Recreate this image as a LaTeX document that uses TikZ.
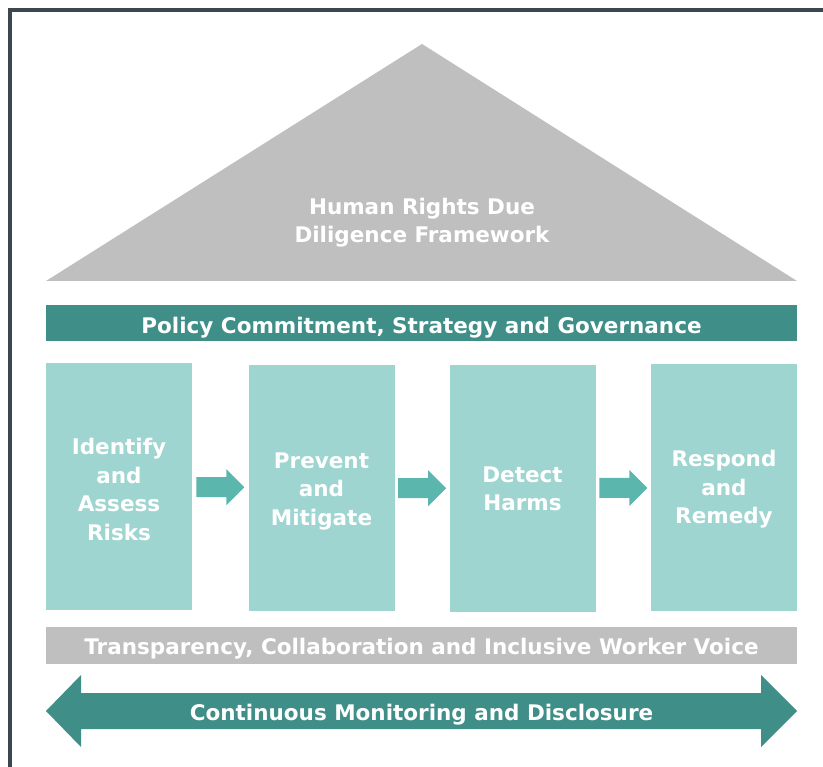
\documentclass[tikz,border=0pt]{standalone}
\usepackage{fontspec}
\setmainfont{DejaVu Sans}
\begin{document}
\begin{tikzpicture}[x=1pt,y=-1pt,
  lbl/.style={text=white,font=\bfseries\fontsize{21.5}{28.5}\selectfont,align=center,inner sep=0pt},
  barlbl/.style={lbl,anchor=base},
  bar/.style={minimum width=751pt,inner sep=0pt},
  stage/.style={fill=boxc,minimum width=146pt,minimum height=246pt,inner sep=0pt},
  smallarrow/.style={fill=arrc}]
\definecolor{frame}{HTML}{3B4852}
\definecolor{roof}{HTML}{BFBFBF}
\definecolor{teal}{HTML}{3F8F88}
\definecolor{boxc}{HTML}{9FD5D1}
\definecolor{arrc}{HTML}{5BB6AE}
\useasboundingbox (0,0) rectangle (823,767);
\fill[white] (0,0) rectangle (823,767);
\draw[frame,line width=4pt] (10,840) -- (10,10) -- (840,10);
% roof
\coordinate (apex) at (422,44);
\coordinate (bl) at (46,281);
\coordinate (br) at (797,281);
\fill[roof] (bl) -- (apex) -- (br) -- cycle;
\node[lbl] (title) at (422,222.8) {Human Rights Due\\Diligence Framework};
% policy bar
\node[bar,fill=teal,minimum height=36pt] (policy) at (421.5,323) {};
\node[barlbl] (policytxt) at (421.5,334) {Policy Commitment, Strategy and Governance};
% stages
\node[stage] (s1) at (119,486.5) {};
\node[stage] (s2) at (321.5,488) {};
\node[stage] (s3) at (522.5,488.5) {};
\node[stage] (s4) at (724,487.5) {};
\node[lbl] (t1) at (119,489.6) {Identify\\and\\Assess\\Risks};
\node[lbl] (t2) at (321.5,491.2) {Prevent\\and\\Mitigate};
\node[lbl] (t3) at (522.5,488.8) {Detect\\Harms};
\node[lbl] (t4) at (724,489.6) {Respond\\and\\Remedy};
% small arrows
\foreach \a/\b in {s1/s2,s2/s3,s3/s4}{
  \path (\a.east) -- (\b.west) coordinate[pos=0.5] (m-\a);
  \fill[smallarrow] ([xshift=-24pt,yshift=-10pt]m-\a) -- ([xshift=6pt,yshift=-10pt]m-\a)
    -- ([xshift=6pt,yshift=-18pt]m-\a) -- ([xshift=24pt]m-\a)
    -- ([xshift=6pt,yshift=18pt]m-\a) -- ([xshift=6pt,yshift=10pt]m-\a)
    -- ([xshift=-24pt,yshift=10pt]m-\a) -- cycle;
}
% gray bar
\node[bar,fill=roof,minimum height=37pt] (voice) at (421.5,645.5) {};
\node[barlbl] (voicetxt) at (421.5,654.3) {Transparency, Collaboration and Inclusive Worker Voice};
% double arrow
\coordinate (lt) at (46,711);
\coordinate (rt) at (797,711);
\fill[teal] (lt) -- (81,675) -- (81,693) -- (761,693) -- (761,675) -- (rt)
  -- (761,747) -- (761,729) -- (81,729) -- (81,747) -- cycle;
\node[barlbl] (monitor) at (421.5,720) {Continuous Monitoring and Disclosure};
\end{tikzpicture}
\end{document}
